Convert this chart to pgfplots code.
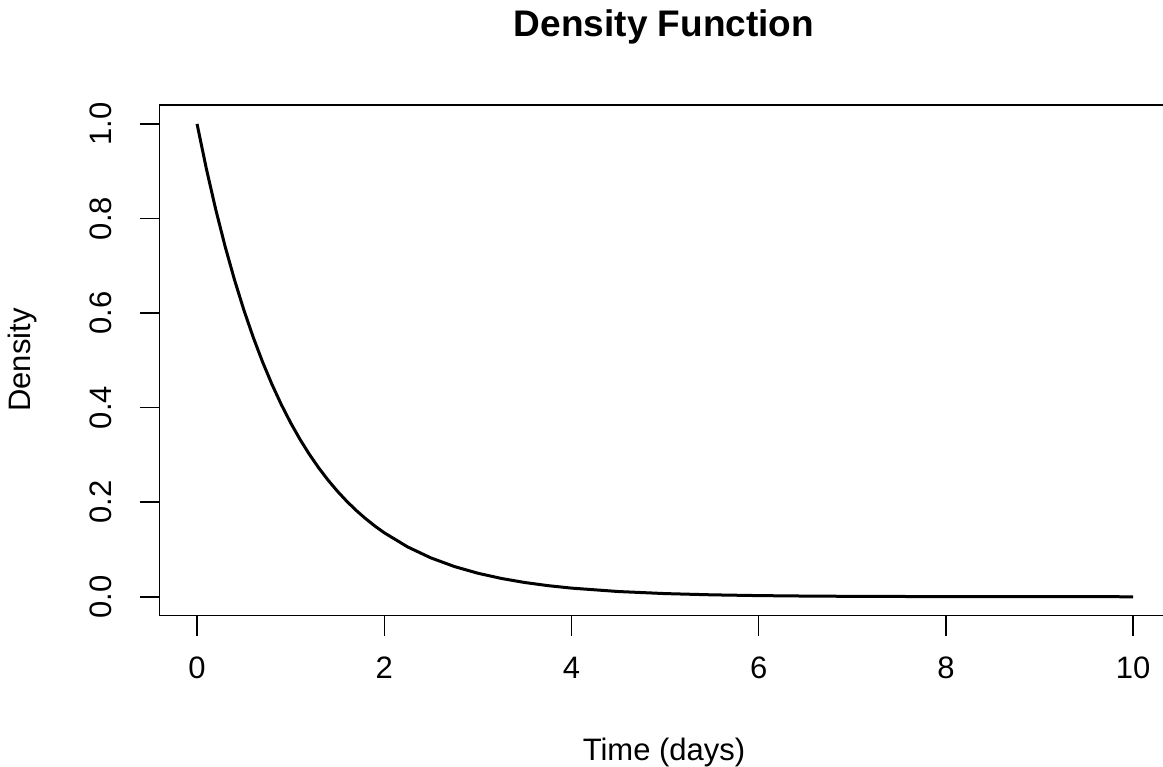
\documentclass[border=0pt]{standalone}
\usepackage{pgfplots}
\pgfplotsset{compat=1.18}
\usepackage{fontspec}
\setmainfont{Liberation Sans}
\begin{document}
\begin{tikzpicture}[x=1pt,y=1pt]
\useasboundingbox (0,0) rectangle (1163,767);
\begin{axis}[
  at={(159.6pt,151.3pt)}, anchor=south west,
  scale only axis, width=1011pt, height=510.7pt,
  xmin=-0.4, xmax=10.4, ymin=-0.04, ymax=1.04,
  xtick={0,2,4,6,8,10}, ytick={0,0.2,0.4,0.6,0.8,1.0},
  xtick pos=left, ytick pos=left,
  tick align=outside, major tick length=20pt,
  tick style={black, line width=1.5pt},
  axis line style={line width=1.5pt},
  /pgf/number format/assume math mode=true,
  yticklabel={\pgfmathprintnumber[fixed,fixed zerofill,precision=1]{\tick}},
  xticklabel style={inner sep=0pt, anchor=north, yshift=-21pt},
  yticklabel style={inner sep=0pt, rotate=90, anchor=south, yshift=28pt},
  tick label style={font=\fontsize{31}{36}\selectfont},
  clip=false,
]
\addplot[black, line width=3pt] coordinates {
(0,1) (0.1,0.904837) (0.2,0.818731) (0.3,0.740818) (0.4,0.670320)
(0.5,0.606531) (0.6,0.548812) (0.7,0.496585) (0.8,0.449329) (0.9,0.406570)
(1.0,0.367879) (1.1,0.332871) (1.2,0.301194) (1.3,0.272532) (1.4,0.246597)
(1.5,0.223130) (1.6,0.201897) (1.7,0.182684) (1.8,0.165299) (1.9,0.149569)
(2.0,0.135335) (2.25,0.105399) (2.5,0.082085) (2.75,0.063928) (3.0,0.049787)
(3.25,0.038774) (3.5,0.030197) (3.75,0.023518) (4.0,0.018316) (4.5,0.011109)
(5.0,0.006738) (5.5,0.004087) (6.0,0.002479) (6.5,0.001503) (7.0,0.000912)
(8.0,0.000335) (9.0,0.000123) (10.0,0.000045)
};
\end{axis}
\node[font=\fontsize{37}{44}\selectfont\bfseries] at (664,740) {Density Function};
\node[font=\fontsize{31}{36}\selectfont] at (664,15) {Time (days)};
\node[font=\fontsize{31}{36}\selectfont, rotate=90] at (22,407) {Density};
\end{tikzpicture}
\end{document}
